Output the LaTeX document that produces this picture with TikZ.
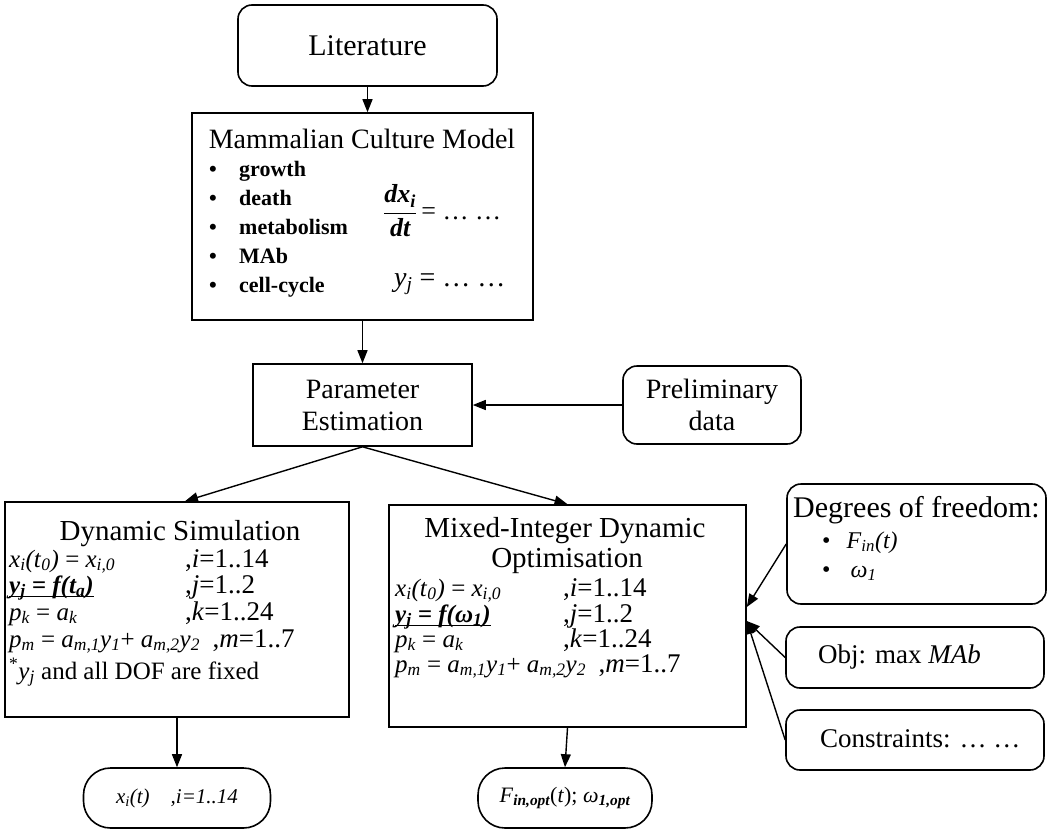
\documentclass[tikz,border=0pt]{standalone}
\usepackage{fontspec}
\setmainfont{Liberation Serif}
\usetikzlibrary{arrows.meta,calc}
\newcommand{\sbi}[1]{\textsubscript{\itshape #1}}
\newcommand{\sbb}[1]{\textsubscript{\bfseries\itshape #1}}
\newcommand{\fs}[1]{\fontsize{#1}{#1}\selectfont}
\newcommand{\ulx}[1]{\setbox0\hbox{#1}\rlap{\rule[-4pt]{\wd0}{1.2pt}}\box0}
\begin{document}
\begin{tikzpicture}[x=1pt,y=-1pt,
  box/.style={draw,line width=1.6pt,inner sep=0pt},
  rbox/.style={box,rounded corners=14pt},
  oval/.style={box,rounded corners=27pt},
  arr/.style={line width=1.4pt,-{Triangle[length=13pt,width=10pt]}},
  lbl/.style={inner sep=0pt,anchor=base west},
  ctr/.style={inner sep=0pt,anchor=base},
]
\useasboundingbox (0,0) rectangle (1049,832);
\fill[white] (0,0) rectangle (1049,832);
% boxes
\node[rbox,minimum width=259pt,minimum height=81pt] (lit) at (367.5,45.5) {};
\node[box,minimum width=341pt,minimum height=207pt] (model) at (362.5,216.5) {};
\node[box,minimum width=219pt,minimum height=82pt] (param) at (362.5,405) {};
\node[rbox,minimum width=178pt,minimum height=78pt] (prelim) at (712,405) {};
\node[box,minimum width=344pt,minimum height=215pt] (dyn) at (177,609.5) {};
\node[box,minimum width=357pt,minimum height=222pt] (mido) at (567.5,616) {};
\node[oval,minimum width=187pt,minimum height=60pt] (out1) at (177,798) {};
\node[oval,minimum width=174pt,minimum height=60pt] (out2) at (565,798) {};
\node[rbox,minimum width=259pt,minimum height=120pt] (dof) at (916.5,544) {};
\node[rbox,minimum width=258pt,minimum height=61pt] (obj) at (915,657.5) {};
\node[rbox,minimum width=258pt,minimum height=60pt] (cons) at (915,740) {};
% literature
\node[inner sep=0pt,font=\fs{30}] (litt) at (lit.center) {Literature};
% model
\node[ctr,font=\fs{28}] (mt) at (362,148) {Mammalian Culture Model};
\node[lbl,font=\fontsize{22}{29}\selectfont\bfseries] (ml) at (209,176)
  {\begin{tabular}[t]{@{}p{30pt}@{}l@{}}•&growth\\•&death\\•&metabolism\\•&MAb\\•&cell-cycle\end{tabular}};
\node[inner sep=0pt,anchor=west,font=\fs{26}] (frac) at (383,211)
  {$\displaystyle\frac{\mbox{\bfseries\itshape dx\textsubscript{i}}}{\mbox{\bfseries\itshape dt}}$\,= … …};
\node[lbl,font=\fs{28}] (yj) at (394,286) {\textit{y}\sbi{j} = … …};
% parameter / preliminary
\node[inner sep=0pt,align=center,font=\fontsize{28}{32}\selectfont] (paramt) at (param.center) {Parameter\\Estimation};
\node[inner sep=0pt,align=center,font=\fontsize{28}{32}\selectfont] (prelimt) at (prelim.center) {Preliminary\\data};
% dynamic simulation
\node[ctr,font=\fs{29}] (dt) at (180,540) {Dynamic Simulation};
\node[lbl,font=\fs{25}] (d1) at (9,567) {\textit{x}\sbi{i}\textit{(t}\sbi{0}\textit{)} = \textit{x}\sbi{i,0}};
\node[lbl,font=\fs{27}] (d1r) at (185,567) {,\textit{i}=1..14};
\node[lbl,font=\fs{25}] (d2) at (9,593) {\ulx{\bfseries\itshape y\textsubscript{j} = f(t\textsubscript{a})}};
\node[lbl,font=\fs{27}] (d2r) at (185,593) {,\textit{j}=1..2};
\node[lbl,font=\fs{25}] (d3) at (9,620) {\textit{p}\sbi{k} = \textit{a}\sbi{k}};
\node[lbl,font=\fs{27}] (d3r) at (185,620) {,\textit{k}=1..24};
\node[lbl,font=\fs{25}] (d4) at (9,647) {\textit{p}\sbi{m} = \textit{a}\sbi{m,1}\textit{y}\sbi{1}+ \textit{a}\sbi{m,2}\textit{y}\sbi{2}\ \ {\fontsize{27}{27}\selectfont,\textit{m}=1..7}};
\node[lbl,font=\fs{25}] (d5) at (9,679) {\textsuperscript{*}\textit{y}\sbi{j} and all DOF are fixed};
% MIDO
\node[ctr,font=\fs{29}] (mt1) at (565,537) {Mixed-Integer Dynamic};
\node[ctr,font=\fs{29}] (mt2) at (567,567) {Optimisation};
\node[lbl,font=\fs{25}] (m1) at (395,596) {\textit{x}\sbi{i}\textit{(t}\sbi{0}\textit{)} = \textit{x}\sbi{i,0}};
\node[lbl,font=\fs{27}] (m1r) at (563,596) {,\textit{i}=1..14};
\node[lbl,font=\fs{25}] (m2) at (395,622) {\ulx{\bfseries\itshape y\textsubscript{j} = f(ω\textsubscript{1})}};
\node[lbl,font=\fs{27}] (m2r) at (563,622) {,\textit{j}=1..2};
\node[lbl,font=\fs{25}] (m3) at (395,647) {\textit{p}\sbi{k} = \textit{a}\sbi{k}};
\node[lbl,font=\fs{27}] (m3r) at (563,647) {,\textit{k}=1..24};
\node[lbl,font=\fs{25}] (m4) at (395,672) {\textit{p}\sbi{m} = \textit{a}\sbi{m,1}\textit{y}\sbi{1}+ \textit{a}\sbi{m,2}\textit{y}\sbi{2}\ \ {\fontsize{27}{27}\selectfont,\textit{m}=1..7}};
% outputs
\node[inner sep=0pt,font=\fs{21}\itshape] (o1t) at (out1.center) {x\sbi{i}(t)\quad ,i=1..14};
\node[inner sep=0pt,font=\fs{22}] (o2t) at (out2.center) {\textit{F}\sbb{in,opt}(\textit{t}); \textit{ω}\sbb{1,opt}};
% right boxes
\node[lbl,font=\fs{30}] (doft) at (793,517) {Degrees of freedom:};
\node[lbl,font=\fs{24}] (dof1) at (822,548) {•\hspace{16pt}\textit{F}\sbi{in}\textit{(t)}};
\node[lbl,font=\fs{24}] (dof2) at (822,577) {•\hspace{20pt}\textit{ω}\sbi{1}};
\node[lbl,font=\fs{27}] (objt) at (818,663) {Obj: max \textit{MAb}};
\node[lbl,font=\fs{27}] (const) at (820,747) {Constraints: … …};
% arrows
\draw[arr] (lit.south) -- (lit.south |- model.north);
\draw[arr] (model.south) -- (model.south |- param.north);
\draw[arr] (prelim.west) -- (prelim.west -| param.east);
\draw[arr] (param.south) -- ($(dyn.north)+(8,0)$);
\draw[arr] (param.south) -- (mido.north);
\draw[arr] (dyn.south) -- (out1.north);
\draw[arr] (mido.south) -- (out2.north);
\coordinate (t1) at ($(mido.east)+(0,-9)$);
\coordinate (t2) at ($(mido.east)+(0,5)$);
\draw[arr] (dof.west) -- (t1);
\draw[arr] (obj.west) -- (t2);
\draw[arr] (cons.west) -- (t2);
\end{tikzpicture}
\end{document}
